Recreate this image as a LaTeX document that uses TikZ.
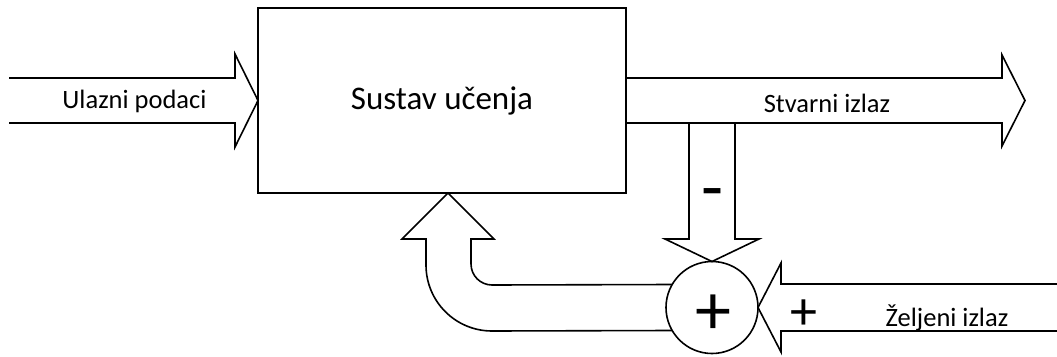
\documentclass[tikz,border=0pt]{standalone}
\usepackage{fontspec}
\setmainfont{Carlito}
\usepackage{tikz}
\usetikzlibrary{calc}

\begin{document}
\begin{tikzpicture}[x=1pt, y=-1pt, line width=1.6pt,
        box_style/.style={draw=black, outer sep=0pt, minimum width=368pt, minimum height=185pt, font=\fontsize{33}{39}\selectfont},
        sum_style/.style={circle, draw=black, outer sep=0pt, inner sep=0pt, minimum size=92pt},
        arrow_style/.style={draw=black, line join=miter},
        label_style/.style={font=\fontsize{26.5}{31}\selectfont},
        sign_style/.style={inner sep=0pt, font=\fontsize{72}{72}\selectfont}]

        \useasboundingbox (0,0) rectangle (1057,356);

        \node [box_style](box) at (442,100.5) {Sustav učenja};

        \node [sum_style](sum) at (712,307.5) {};

        \coordinate (out) at (1025,100.5);

        \draw [arrow_style] (9,78) -- (235,78) -- (235,54) -- (box.west) -- (235,147) -- (235,123) -- (9,123);

        \draw [arrow_style] ($(box.east)+(0,-22.5)$) -- (1002,78) -- (1002,55) -- (out) -- (1002,146) -- (1002,123) -- ($(box.east)+(0,22.5)$);

        \draw [arrow_style] (689,123) -- (689,239) -- (665,239) -- (sum.north) -- (759,239) -- (735,239) -- (735,123);

        \draw [arrow_style] (1057,284) -- (781,284) -- (781,263) -- (sum.east) -- (781,352) -- (781,331) -- (1057,331);

        % feedback arrow back into the box
        \draw [arrow_style] (sum.150.7) -- (492,285) .. controls (480.4,285) and (471,275.6) .. (471,264) -- (471,239) -- (494,239) -- ($(box.south)+(6,0)$) -- (402,239) -- (426,239) -- (426,265) .. controls (426,301.5) and (455.5,331) .. (492,331) -- (sum.210.7);

        \node [label_style](in_label) at (134.5,101) {Ulazni podaci};

        \node [label_style](out_label) at (827,103) {Stvarni izlaz};

        \node [label_style](des_label) at (947,318) {Željeni izlaz};

        \node [sign_style](minus) at (713,200) {-};

        \node [sign_style](plus_sum) at (713,315) {+};

        \node [sign_style, font=\fontsize{54}{54}\selectfont](plus_des) at (804,315) {+};

\end{tikzpicture}
\end{document}
